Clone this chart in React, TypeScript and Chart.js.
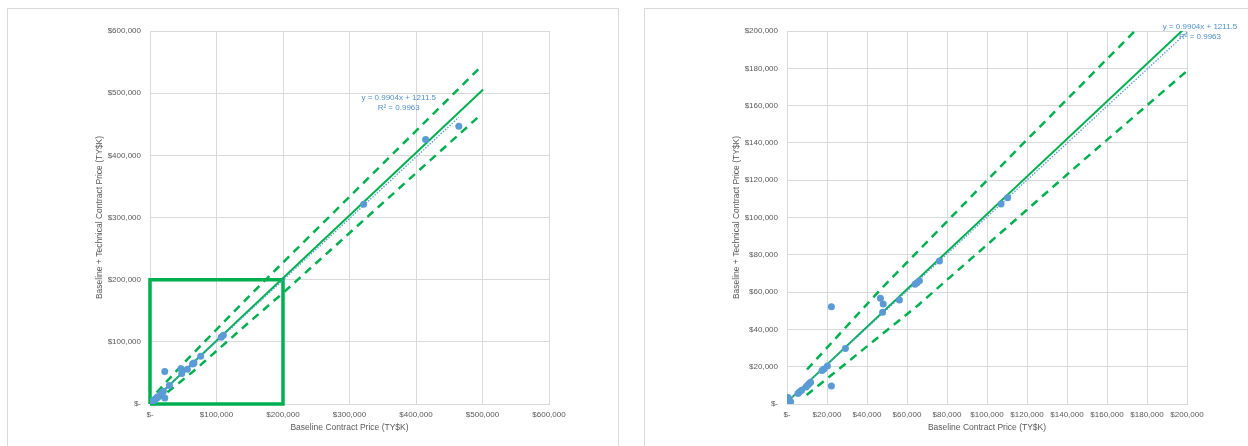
import React, { useEffect, useRef } from "react";
import { Chart, registerables } from "chart.js";

Chart.register(...registerables);

// Scatter data (TY$K)
const baselineX = [200, 500, 1000, 800, 500, 1800, 5500, 6200, 7300, 9500, 10300, 11000, 11800, 17500, 18500, 20200, 22200, 22200, 29200, 46700, 48100, 47800, 56200, 64000, 65000, 66200, 76200, 107000, 110300, 321300, 414400, 464400];
const technicalY = [300, 800, 1500, 2200, 3500, 1200, 5600, 6400, 7400, 9100, 10000, 10800, 11600, 17900, 18800, 20400, 9700, 52200, 29700, 56700, 53600, 49200, 55700, 64200, 65000, 66100, 76700, 107200, 110600, 321500, 425300, 446800];

// Linear trendline (Excel)
const trendSlope = 0.9904;
const trendIntercept = 1211.5;
const rSquared = 0.9963;

// Reference line (solid green)
const refLineX = [0, 501000];
const refLineY = [1000, 506000];

// Upper / lower bands (dashed green)
const upperBandX = [10000, 47300, 114900, 173000, 494000];
const upperBandY = [18500, 62000, 136200, 199000, 538700];
const lowerBandX = [9800, 65700, 146500, 200000, 494000];
const lowerBandY = [4800, 53100, 129100, 178600, 462000];

// Zoom box on the full-range chart
const zoomBoxX = [0, 0, 200000, 200000, 0];
const zoomBoxY = [0, 200000, 200000, 0, 0];

// Axis ranges
const fullMax = 600000;
const fullStep = 100000;
const zoomMax = 200000;
const zoomStep = 20000;

const xTitle = "Baseline Contract Price (TY$K)";
const yTitle = "Baseline + Technical Contract Price (TY$K)";

const FONT = "'Liberation Sans', Arial, sans-serif";
const GREEN = "#00B050";
const BLUE = "#5B9BD5";
const TEXT = "#595959";
const GRID = "#D9D9D9";

const pts = (xs: number[], ys: number[]) => xs.map((x, i) => ({ x, y: ys[i] }));

const fmt = (v: any) => (Number(v) === 0 ? "$-" : "$" + Number(v).toLocaleString("en-US"));

const eqPlugin = {
  id: "eqLabel",
  afterDatasetsDraw(chart: any, _args: any, opts: any) {
    const { ctx, scales } = chart;
    const px = scales.x.getPixelForValue(opts.x);
    const py = scales.y.getPixelForValue(opts.y);
    ctx.save();
    ctx.font = `8px ${FONT}`;
    ctx.fillStyle = "#4F8FCC";
    ctx.textAlign = "center";
    ctx.textBaseline = "middle";
    ctx.fillText(`y = ${trendSlope}x + ${trendIntercept}`, px, py);
    ctx.fillText(`R² = ${rSquared}`, px, py + 10.5);
    ctx.restore();
  },
};

function makeConfig(max: number, step: number, showBox: boolean, rightPad: number, label: { x: number; y: number }) {
  const xMin = Math.min(...baselineX);
  const xMaxData = Math.max(...baselineX);
  const datasets: any[] = [
    {
      label: "data",
      data: pts(baselineX, technicalY),
      backgroundColor: BLUE,
      borderColor: BLUE,
      borderWidth: 0,
      pointRadius: 3.5,
      showLine: false,
    },
    {
      label: "trend",
      data: [
        { x: xMin, y: trendSlope * xMin + trendIntercept },
        { x: xMaxData, y: trendSlope * xMaxData + trendIntercept },
      ],
      borderColor: BLUE,
      borderWidth: 1.3,
      borderDash: [1.5, 1.5],
      pointRadius: 0,
      showLine: true,
    },
    {
      label: "ref",
      data: pts(refLineX, refLineY),
      borderColor: GREEN,
      borderWidth: 2,
      pointRadius: 0,
      showLine: true,
    },
    {
      label: "upper",
      data: pts(upperBandX, upperBandY),
      borderColor: GREEN,
      borderWidth: 2.5,
      borderDash: [8, 6],
      pointRadius: 0,
      showLine: true,
    },
    {
      label: "lower",
      data: pts(lowerBandX, lowerBandY),
      borderColor: GREEN,
      borderWidth: 2.5,
      borderDash: [8, 6],
      pointRadius: 0,
      showLine: true,
    },
  ];
  if (showBox) {
    datasets.push({
      label: "box",
      data: pts(zoomBoxX, zoomBoxY),
      borderColor: GREEN,
      borderWidth: 3.5,
      pointRadius: 0,
      showLine: true,
      clip: false,
    });
  }
  const tickFont = { family: FONT, size: 8 };
  return {
    type: "scatter" as const,
    data: { datasets },
    plugins: [eqPlugin],
    options: {
      animation: false as const,
      responsive: false,
      devicePixelRatio: 1,
      layout: { padding: { left: 0, top: 22, right: rightPad, bottom: 0 } },
      plugins: {
        legend: { display: false },
        tooltip: { enabled: false },
        eqLabel: label,
      },
      scales: {
        x: {
          type: "linear",
          min: 0,
          max,
          ticks: { stepSize: step, callback: fmt, color: TEXT, font: tickFont, padding: 6, maxRotation: 0 },
          grid: { color: GRID, drawTicks: false },
          border: { color: GRID },
          title: { display: true, text: xTitle, color: TEXT, font: { family: FONT, size: 8.5 }, padding: { top: 0, bottom: 13 } },
          afterFit: (s: any) => { s.height = 42; },
        },
        y: {
          type: "linear",
          min: 0,
          max,
          ticks: { stepSize: step, callback: fmt, color: TEXT, font: tickFont, padding: 9 },
          grid: { color: GRID, drawTicks: false },
          border: { color: GRID },
          title: { display: true, text: yTitle, color: TEXT, font: { family: FONT, size: 8.5 }, padding: { top: 87, bottom: 0 } },
          afterFit: (s: any) => { s.width = 142; },
        },
      },
    },
  };
}

function ChartBox(props: { left: number; width: number; canvasWidth: number; max: number; step: number; showBox: boolean; rightPad: number; label: { x: number; y: number } }) {
  const ref = useRef<HTMLCanvasElement | null>(null);
  useEffect(() => {
    if (!ref.current) return;
    const chart = new Chart(ref.current, makeConfig(props.max, props.step, props.showBox, props.rightPad, props.label) as any);
    return () => chart.destroy();
  }, []);
  return (
    <div
      style={{
        position: "absolute",
        left: props.left,
        top: 8,
        width: props.width,
        height: 460,
        border: "1px solid #D9D9D9",
        background: "#fff",
      }}
    >
      <canvas ref={ref} width={props.canvasWidth} height={437} style={{ position: "absolute", left: 0, top: 0, width: props.canvasWidth, height: 437 }} />
    </div>
  );
}

export default function App() {
  return (
    <div style={{ position: "absolute", left: 0, top: 0, width: 1248, height: 446, overflow: "hidden", background: "#fff" }}>
      <ChartBox left={7} width={610} canvasWidth={610} max={fullMax} step={fullStep} showBox={true} rightPad={69} label={{ x: 374000, y: 493300 }} />
      <ChartBox left={644} width={620} canvasWidth={603} max={zoomMax} step={zoomStep} showBox={false} rightPad={61} label={{ x: 206500, y: 202300 }} />
    </div>
  );
}
